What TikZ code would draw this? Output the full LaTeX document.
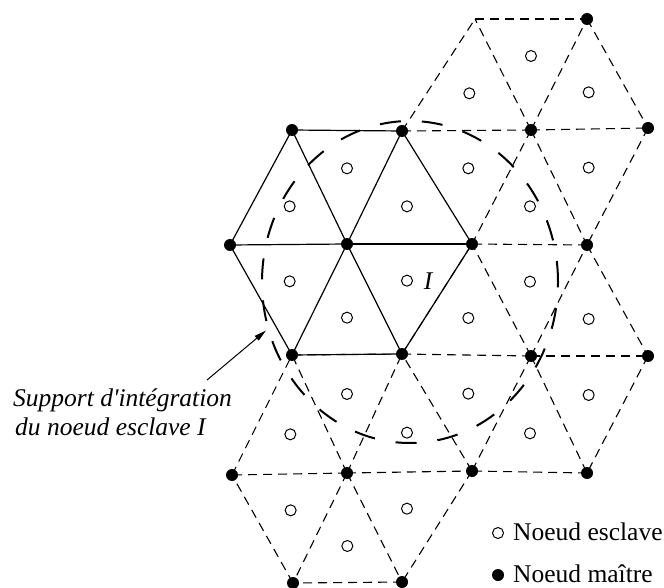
\documentclass[tikz,border=0pt]{standalone}
\usepackage{fontspec}
\newfontfamily\txtfont{Liberation Serif}
\usetikzlibrary{calc,arrows.meta,shapes.geometric}
\pgfdeclarelayer{background}
\pgfsetlayers{background,main}
\begin{document}
\begin{tikzpicture}[x=1pt,y=-1pt,
  master/.style={circle,fill=black,inner sep=0pt,minimum size=12pt},
  slave/.style={circle,draw=black,fill=white,line width=1pt,inner sep=0pt,minimum size=11pt},
  solidedge/.style={line width=1.2pt},
  dashedge/.style={line width=1.1pt,dash pattern=on 9pt off 6pt},
  support/.style={draw,ellipse,line width=2pt,dash pattern=on 21pt off 21pt,inner sep=0pt,outer sep=0pt,minimum width=296pt,minimum height=322pt},
  lbl/.style={font=\txtfont\fontsize{25.5}{29}\selectfont,inner sep=0pt,anchor=base west},
  itlbl/.style={lbl,font=\txtfont\itshape\fontsize{25.5}{29}\selectfont},
  arrowline/.style={line width=1pt,-{Triangle[length=12pt,width=6pt]}}]
\useasboundingbox (0,0) rectangle (664,588);
% master nodes
\coordinate (t1) at (475,19);
\foreach \n/\x/\y in {t2/587/19,
  a1/292/130, a2/402/131, a3/531/130, a4/648/128,
  b1/230/245, b2/347/244, b3/472/244, b4/587/245,
  c1/292/355, c2/402/354, c3/531/356, c4/648/356,
  d1/232/475, d2/347/473, d3/472/471, d4/587/473,
  e1/293/583, e2/402/582}
  \node[master] (\n) at (\x,\y) {};
\begin{pgfonlayer}{background}
% solid hexagon
\foreach \p/\q in {a1/a2, a2/b3, b3/c2, c2/c1, c1/b1, b1/a1,
  b2/a1, b2/a2, b2/b3, b2/c2, b2/c1, b2/b1}
  \draw[solidedge] (\p.center) -- (\q.center);
% dashed hexagons
\foreach \p/\q in {t1/t2, t2/a4, a4/b4, b4/b3, a2/t1,
  a3/t1, a3/t2, a3/a4, a3/b4, a3/b3, a3/a2,
  b4/c4, c4/d4, d4/d3, d3/c2, c2/b3,
  c3/b3, c3/b4, c3/c4, c3/d4, c3/d3, c3/c2,
  c1/c2, d3/e2, e2/e1, e1/d1, d1/c1,
  d2/c1, d2/c2, d2/d3, d2/e2, d2/e1, d2/d1}
  \draw[dashedge] (\p.center) -- (\q.center);
\end{pgfonlayer}
% support ellipse
\node[support] (supp) at (410,282) {};
% slave nodes
\foreach \p/\q/\r [count=\i] in {a1/a2/b2, a2/b3/b2, b3/c2/b2, c2/c1/b2, c1/b1/b2, b1/a1/b2,
  t1/t2/a3, t2/a4/a3, a4/b4/a3, b4/b3/a3, b3/a2/a3, a2/t1/a3,
  b3/b4/c3, b4/c4/c3, c4/d4/c3, d4/d3/c3, d3/c2/c3, c2/b3/c3,
  c1/c2/d2, c2/d3/d2, d3/e2/d2, e2/e1/d2, e1/d1/d2, d1/c1/d2}
  \node[slave] (s\i) at (barycentric cs:\p=1,\q=1,\r=1) {};
\node[itlbl,anchor=center] (labI) at (428,281) {I};
% annotation
\node[itlbl] (note1) at (13,406) {Support d'intégration};
\node[itlbl] (note2) at (15,435) {du noeud esclave I};
\coordinate (arrstart) at (207,380);
\draw[arrowline] (arrstart) -- ([shift={(-3,0)}]supp.199);
% legend
\node[slave] (legS) at (498,533) {};
\node[lbl] (legSt) at (513,540) {Noeud esclave};
\node[master] (legM) at (498,575) {};
\node[lbl] (legMt) at (513,582) {Noeud maître};
\end{tikzpicture}
\end{document}
